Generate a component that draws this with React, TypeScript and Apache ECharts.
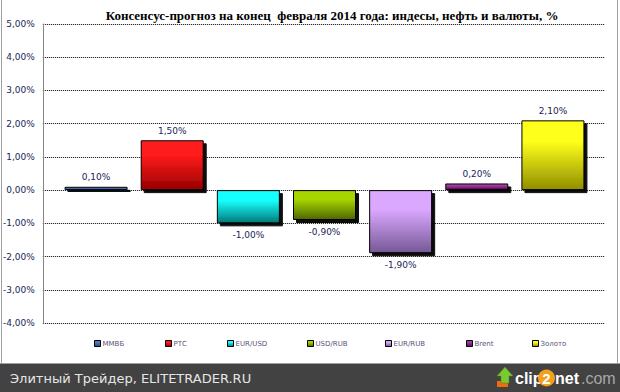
import React, { useEffect, useRef } from "react";
import * as echarts from "echarts";

const categories = ["ММВБ", "РТС", "EUR/USD", "USD/RUB", "EUR/RUB", "Brent", "Золото"];
const values = [0.1, 1.5, -1.0, -0.9, -1.9, 0.2, 2.1];
const topColors = ["#4a7cc0", "#ff1a1a", "#19ffff", "#a6d600", "#dba8ff", "#a13ca1", "#ffff1a"];
const bottomColors = ["#264a7a", "#990000", "#007a7a", "#4f6600", "#765896", "#5c005c", "#8f8f00"];
const yMin = -4;
const yMax = 5;
const yInterval = 1;
const titleText = "Консенсус-прогноз на конец  февраля 2014 года: индесы, нефть и валюты, %";
const footerText = "Элитный Трейдер, ELITETRADER.RU";
const legendLefts = [94, 165, 227, 307, 385, 466, 532];

const fmt = (v: number) => v.toFixed(2).replace(".", ",") + "%";

export default function App() {
  const ref = useRef<HTMLDivElement>(null);
  useEffect(() => {
    if (!ref.current) return;
    const chart = echarts.init(ref.current, null, { renderer: "svg" });
    const labelColor = "#1a2556";
    const series = categories.map((name, i) => ({
      name,
      type: "bar",
      xAxisIndex: 1,
      yAxisIndex: 1,
      barWidth: 63,
      barGap: "-100%",
      data: categories.map((_, j) =>
        j === i
          ? {
              value: values[i],
              label: {
                show: true,
                position: values[i] >= 0 ? "top" : "bottom",
                distance: values[i] >= 0 ? 5 : 7,
                formatter: () => fmt(values[i]),
                color: labelColor,
                fontFamily: "DejaVu Sans",
                fontSize: 9,
              },
            }
          : null
      ),
      itemStyle: {
        color: new echarts.graphic.LinearGradient(0, 0, 0, 1, [
          { offset: 0, color: topColors[i] },
          { offset: 0.3, color: topColors[i] },
          { offset: 1, color: bottomColors[i] },
        ]),
        borderColor: "#000",
        borderWidth: 1,
        shadowColor: "rgba(0,0,0,0.95)",
        shadowBlur: 0,
        shadowOffsetX: 3,
        shadowOffsetY: 3,
      },
    }));
    const legends = categories.map((name, i) => ({
      data: [name],
      left: legendLefts[i],
      top: 340,
      padding: 0,
      itemWidth: 6,
      itemHeight: 6,
      icon: "rect",
      itemStyle: { borderColor: "#000", borderWidth: 1 },
      selectedMode: false,
      textStyle: { fontSize: 7, color: "#55557a", fontFamily: "DejaVu Sans", padding: [0, 0, 0, -3] },
    }));
    chart.setOption({
      animation: false,
      backgroundColor: "#fff",
      title: {
        text: titleText,
        left: 332,
        top: 9,
        padding: 0,
        textAlign: "center",
        textStyle: { fontFamily: "Liberation Serif", fontWeight: "bold", fontSize: 13, color: "#000" },
      },
      legend: legends,
      grid: [
        { left: 42, right: 15, top: 24, bottom: 69 },
        { left: 58, right: 29, top: 24, bottom: 69 },
      ],
      xAxis: [
        { type: "category", gridIndex: 0, data: categories, show: false },
        { type: "category", gridIndex: 1, data: categories, show: false },
      ],
      yAxis: [
        {
          type: "value",
          gridIndex: 0,
          min: yMin,
          max: yMax,
          interval: yInterval,
          axisLine: { show: true, lineStyle: { color: "#868686", width: 1 } },
          axisTick: { show: false },
          axisLabel: { formatter: (v: number) => fmt(v), color: labelColor, fontFamily: "DejaVu Sans", fontSize: 9, margin: 8 },
          splitLine: { show: true, lineStyle: { color: "#000", type: [1, 1], width: 1 } },
        },
        {
          type: "value",
          gridIndex: 1,
          min: yMin,
          max: yMax,
          interval: yInterval,
          show: false,
          splitLine: { show: false },
        },
      ],
      series,
      graphic: [
        { type: "line", shape: { x1: 1.5, y1: 0, x2: 1.5, y2: 363 }, style: { stroke: "#a0a0a0", lineWidth: 1 }, silent: true },
        { type: "line", shape: { x1: 617.5, y1: 0, x2: 617.5, y2: 363 }, style: { stroke: "#a0a0a0", lineWidth: 1 }, silent: true },
        { type: "line", shape: { x1: 0, y1: 363.5, x2: 620, y2: 363.5 }, style: { stroke: "#a0a0a0", lineWidth: 1 }, silent: true },
        { type: "rect", shape: { x: 0, y: 364, width: 620, height: 28 }, style: { fill: "#424242" }, silent: true },
        {
          type: "text",
          x: 10,
          y: 378,
          style: { text: footerText, fill: "#e6e6e6", font: "13px 'DejaVu Sans'", textVerticalAlign: "middle" },
          silent: true,
        },
        {
          type: "group",
          silent: true,
          children: [
            { type: "rect", shape: { x: 497, y: 381, width: 11, height: 6 }, style: { fill: "#f06a10" } },
            { type: "polygon", shape: { points: [[505, 367], [513, 376], [509, 376], [509, 383], [501, 383], [501, 376], [497, 376]] }, style: { fill: "#7cc832", stroke: "#4f8f1a", lineWidth: 0.5 } },
            { type: "text", x: 515, y: 378, style: { text: "clip", fill: "#ffffff", font: "bold 16px 'Liberation Sans'", textVerticalAlign: "middle" } },
            { type: "circle", shape: { cx: 546.5, cy: 378, r: 8.5 }, style: { fill: "#f5a01a" } },
            { type: "text", x: 546.5, y: 378.5, style: { text: "2", fill: "#ffffff", font: "bold 15px 'Liberation Sans'", textAlign: "center", textVerticalAlign: "middle" } },
            { type: "text", x: 555, y: 378, style: { text: "net", fill: "#ffffff", font: "bold 16px 'Liberation Sans'", textVerticalAlign: "middle" } },
            { type: "text", x: 581, y: 378, style: { text: ".com", fill: "#a8a8a8", font: "16px 'Liberation Sans'", textVerticalAlign: "middle" } },
          ],
        },
      ],
    });
    return () => chart.dispose();
  }, []);
  return <div ref={ref} style={{ position: "fixed", left: 0, top: 0, width: 620, height: 392 }} />;
}
